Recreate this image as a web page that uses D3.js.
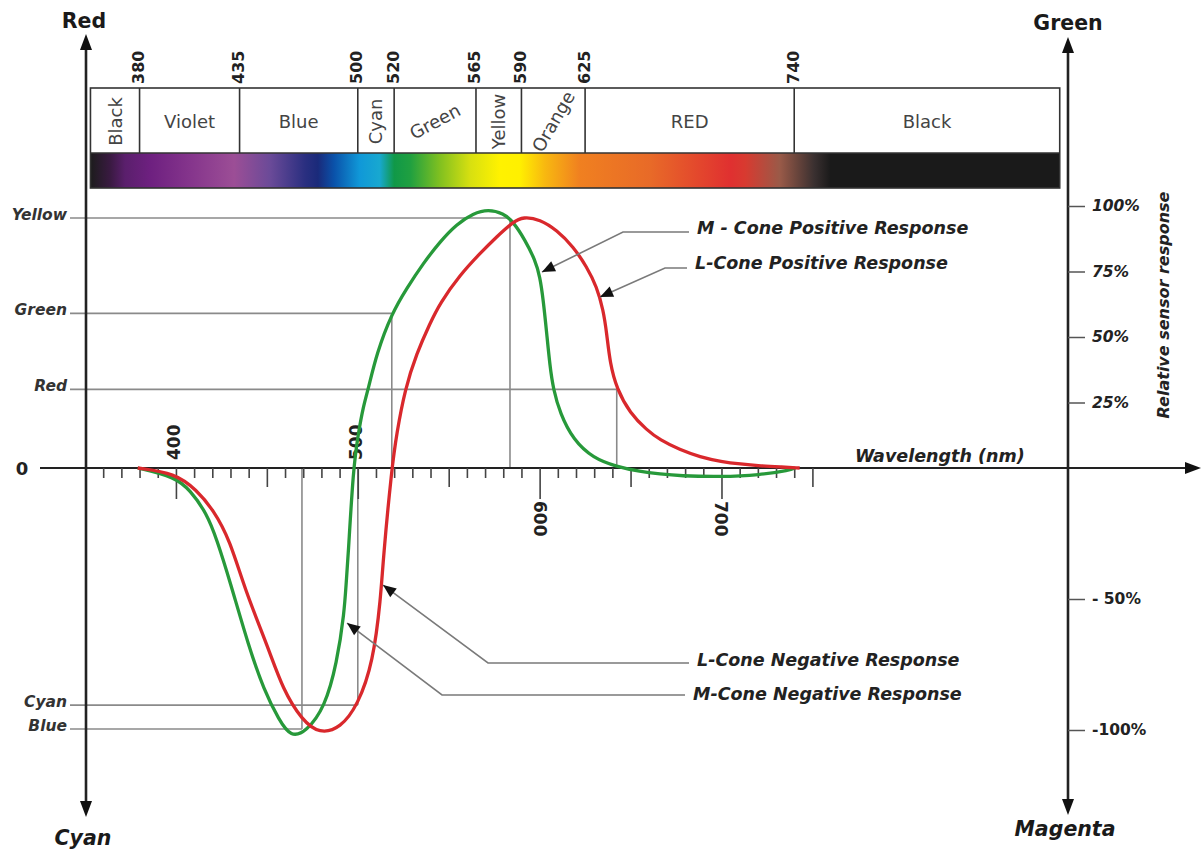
<!DOCTYPE html>
<html><head><meta charset="utf-8">
<script src="https://cdn.jsdelivr.net/npm/d3@7"></script>
<style>body{margin:0;background:#fff}svg{display:block}</style>
</head><body><svg id="c" width="1202" height="850"></svg>
<script>
// ---------------- data ----------------
const lConeWavelengths = [379,399.5,411.4,420.6,429.7,438,450.6,458.9,469.3,479,490.6,500,508.4,512.7,513.9,518.7,521.4,526,532.4,539.7,545.2,556.2,567.2,576.4,585.5,591,600.2,609.4,618.5,625.9,631.4,635,636.9,638.7,642.4,649.7,658.9,666.2,677,688.2,700,710.2,722,732.2,743];
const lConeValues      = [0,-0.02,-0.084,-0.16,-0.275,-0.466,-0.683,-0.847,-0.962,-1.015,-0.992,-0.905,-0.744,-0.492,-0.351,0,0.132,0.302,0.438,0.552,0.629,0.737,0.819,0.883,0.94,0.959,0.949,0.908,0.845,0.768,0.692,0.603,0.514,0.40,0.302,0.209,0.145,0.107,0.07,0.042,0.024,0.015,0.008,0.004,0];
const mConeWavelengths = [379,399.5,407.7,416.9,422.6,429.5,440.1,448.4,456.7,463.2,471.5,482,488.5,492.6,493.7,494.6,497.5,500.3,503,505.8,510.4,518.7,526.9,536,545.2,554.4,563.5,571.8,580,585.5,592,597.5,600.2,602,603.9,605.7,607.5,611.2,618.5,629.5,642.4,655.2,666.2,677.2,699.2,721.2,737.7,740.5];
const mConeValues      = [0,-0.034,-0.084,-0.172,-0.275,-0.427,-0.683,-0.847,-0.962,-1.027,-1.008,-0.912,-0.744,-0.553,-0.427,-0.351,0,0.132,0.234,0.302,0.438,0.59,0.686,0.781,0.864,0.931,0.972,0.987,0.972,0.94,0.87,0.794,0.73,0.641,0.514,0.387,0.302,0.209,0.107,0.037,0.005,-0.014,-0.023,-0.03,-0.034,-0.027,-0.008,0];

const bandEdges = [353, 380, 435, 500, 520, 565, 590, 625, 740, 886];
const bandNames = ["Black","Violet","Blue","Cyan","Green","Yellow","Orange","RED","Black"];

const spectrumWavelengths = [353,364,372,386,408,432,452,471,478,487,501,512,520,529,545,562,578,589,603,622,661,705,713,732,751,760,886];
const spectrumColors = ["#1c1c1c","#3a1a42","#5a1f6c","#6e2080","#85358c","#9c4e96","#6a4a98","#2a2f80","#1a2a7a","#0a52aa","#1098d8","#18a8d0","#109848","#20a040","#80c020","#d8e010","#fff200","#fff000","#f8b810","#f08020","#e86a28","#e03030","#d83a30","#9a5a48","#3a3030","#1a1a1a","#1a1a1a"];

const guideNames = ["Yellow","Green","Red","Cyan","Blue"];
const guideValues = [0.954, 0.59, 0.30, -0.905, -0.996];
const guideWavelengths = [583.7, 518.7, 642.4, 500, 469.3];

const majorTicks = [400, 500, 600, 700];
const mediumTicks = [450, 550, 650, 750];
const minorTicks = d3.range(360, 751, 10).filter(d => d % 50 !== 0);

const responseTicks = [1, 0.75, 0.5, 0.25, -0.5, -1];
const responseTickLabels = ["100%","75%","50%","25%","- 50%","-100%"];

const annotationTexts = ["M - Cone Positive Response","L-Cone Positive Response","L-Cone Negative Response","M-Cone Negative Response"];
const annotationTipWavelengths = [601.3, 633.2, 513.9, 494.1];
const annotationTipValues = [0.748, 0.653, -0.447, -0.592];

// ---------------- layout ----------------
const svg = d3.select("#c");
const FONT = "'DejaVu Sans', sans-serif";
svg.append("rect").attr("width",1202).attr("height",850).attr("fill","#fff");

const x = d3.scaleLinear().domain([350, 890]).range([85, 1067]);
const y = d3.scaleLinear().domain([-1, 1]).range([730, 206]);
const y0 = y(0);
const leftX = x.range()[0] + 1, rightX = x.range()[1] + 1;

const boxTop = 88, labelBottom = 153, barBottom = 188;

// gradient
const defs = svg.append("defs");
const gx1 = x(bandEdges[0]), gx2 = x(bandEdges[bandEdges.length-1]);
const grad = defs.append("linearGradient").attr("id","spec")
  .attr("gradientUnits","userSpaceOnUse").attr("x1",gx1).attr("x2",gx2).attr("y1",0).attr("y2",0);
spectrumWavelengths.forEach((w,i)=>{
  grad.append("stop").attr("offset",(x(w)-gx1)/(gx2-gx1)).attr("stop-color",spectrumColors[i]);
});
svg.append("rect").attr("x",gx1).attr("y",labelBottom).attr("width",gx2-gx1).attr("height",barBottom-labelBottom)
  .attr("fill","url(#spec)");
svg.append("rect").attr("x",gx1).attr("y",boxTop).attr("width",gx2-gx1).attr("height",barBottom-boxTop)
  .attr("fill","none").attr("stroke","#333").attr("stroke-width",1.6);
svg.append("line").attr("x1",gx1).attr("x2",gx2).attr("y1",labelBottom).attr("y2",labelBottom)
  .attr("stroke","#333").attr("stroke-width",1.6);
const inner = bandEdges.slice(1,-1);
svg.selectAll(".div").data(inner).join("line")
  .attr("x1",d=>x(d)).attr("x2",d=>x(d)).attr("y1",boxTop).attr("y2",labelBottom)
  .attr("stroke","#333").attr("stroke-width",1.6);
svg.selectAll(".edgeLbl").data(inner).join("text")
  .attr("transform",d=>`translate(${x(d)-1},${boxTop-4}) rotate(-90)`)
  .attr("text-anchor","start").attr("dominant-baseline","central")
  .attr("font-family",FONT).attr("font-weight","bold").attr("font-size",16).attr("fill","#222")
  .text(d=>d);
const bandRot = [-90,0,0,-90,-28,-90,-60,0,0];
svg.selectAll(".bandLbl").data(bandNames).join("text")
  .attr("transform",(d,i)=>`translate(${(x(bandEdges[i])+x(bandEdges[i+1]))/2},${(boxTop+labelBottom)/2+1}) rotate(${bandRot[i]})`)
  .attr("text-anchor","middle").attr("dominant-baseline","central")
  .attr("font-family",FONT).attr("font-size",18).attr("fill","#444")
  .text(d=>d);

// guide lines
const gcol = "#8a8a8a";
guideNames.forEach((n,i)=>{
  const gy = y(guideValues[i]), gxv = x(guideWavelengths[i]);
  svg.append("line").attr("x1",70).attr("x2",gxv).attr("y1",gy).attr("y2",gy).attr("stroke",gcol).attr("stroke-width",1.6);
  svg.append("line").attr("x1",gxv).attr("x2",gxv).attr("y1",gy).attr("y2",y0).attr("stroke",gcol).attr("stroke-width",1.6);
  svg.append("text").attr("x",67).attr("y",gy-3).attr("text-anchor","end").attr("dominant-baseline","central")
    .attr("font-family",FONT).attr("font-weight","bold").attr("font-style","italic").attr("font-size",15.5).attr("fill","#333")
    .text(n);
});

// horizontal axis
svg.append("line").attr("x1",40).attr("x2",1190).attr("y1",y0).attr("y2",y0).attr("stroke","#222").attr("stroke-width",2);
svg.append("path").attr("d",`M1201,${y0} L1185,${y0-6} L1185,${y0+6} Z`).attr("fill","#111");
svg.append("text").attr("x",22).attr("y",y0).attr("text-anchor","middle").attr("dominant-baseline","central")
  .attr("font-family",FONT).attr("font-weight","bold").attr("font-size",18).attr("fill","#222").text("0");

function ticks(vals,len){
  const g = svg.append("g").attr("transform",`translate(0,${y0})`)
    .call(d3.axisBottom(x).tickValues(vals).tickSize(len).tickFormat(""));
  g.select(".domain").remove();
  g.selectAll("line").attr("stroke","#444").attr("stroke-width",1.6);
}
ticks(minorTicks,10); ticks(mediumTicks,19); ticks(majorTicks,31);
svg.selectAll(".maj").data(majorTicks).join("text")
  .attr("transform",d=> d<550 ? `translate(${x(d)-2},${y0-8}) rotate(-90)` : `translate(${x(d)},${y0+33}) rotate(90)`)
  .attr("text-anchor","start").attr("dominant-baseline","central")
  .attr("font-family",FONT).attr("font-weight","bold").attr("font-size",17).attr("fill","#222")
  .text(d=>d);

svg.append("text").attr("x",855).attr("y",462)
  .attr("font-family",FONT).attr("font-weight","bold").attr("font-style","italic").attr("font-size",17.5).attr("fill","#222")
  .text("Wavelength (nm)");

// curves
const line = d3.line().x(d=>x(d[0])).y(d=>y(d[1])).curve(d3.curveBasis);
svg.append("path").datum(mConeWavelengths.map((w,i)=>[w,mConeValues[i]])).attr("d",line)
  .attr("fill","none").attr("stroke","#27993a").attr("stroke-width",3.3);
svg.append("path").datum(lConeWavelengths.map((w,i)=>[w,lConeValues[i]])).attr("d",line)
  .attr("fill","none").attr("stroke","#d9282c").attr("stroke-width",3.3);

// vertical axes
function vAxis(xx, topTip, botTip){
  svg.append("line").attr("x1",xx).attr("x2",xx).attr("y1",topTip+12).attr("y2",botTip-12).attr("stroke","#222").attr("stroke-width",2.6);
  svg.append("path").attr("d",`M${xx},${topTip} L${xx-6},${topTip+16} L${xx+6},${topTip+16} Z`).attr("fill","#111");
  svg.append("path").attr("d",`M${xx},${botTip} L${xx-6},${botTip-16} L${xx+6},${botTip-16} Z`).attr("fill","#111");
}
vAxis(leftX, 34, 817);
vAxis(rightX, 37, 815);

const ra = svg.append("g").attr("transform",`translate(${rightX},0)`)
  .call(d3.axisRight(y).tickValues(responseTicks).tickSize(17).tickPadding(7).tickFormat((d,i)=>responseTickLabels[i]));
ra.select(".domain").remove();
ra.selectAll("line").attr("stroke","#555").attr("stroke-width",1.5);
ra.selectAll("text").attr("font-family",FONT).attr("font-weight","bold").attr("font-size",15.5).attr("fill","#222")
  .attr("font-style",d=>d>0?"italic":"normal");

svg.append("text").attr("transform","translate(1163,305) rotate(-90)")
  .attr("text-anchor","middle").attr("dominant-baseline","central")
  .attr("font-family",FONT).attr("font-weight","bold").attr("font-style","italic").attr("font-size",16).attr("fill","#222")
  .text("Relative sensor response");

// corner labels
const corner = (t,xx,yy,it)=>svg.append("text").attr("x",xx).attr("y",yy).attr("text-anchor","middle")
  .attr("font-family",FONT).attr("font-weight","bold").attr("font-style",it?"italic":"normal").attr("font-size",20.5).attr("fill","#1a1a1a").text(t);
corner("Red",84,28,false);
corner("Green",1068,30,false);
corner("Cyan",83,845,true);
corner("Magenta",1065,836,true);

// annotations
const annTextY = [234, 269, 666, 700];
const annLineY = [232, 268, 663, 695];
const annKneeX = [623, 665, 488, 442];
const annTextX = [697, 695, 697, 693];
annotationTexts.forEach((t,i)=>{
  const tx = x(annotationTipWavelengths[i]), ty = y(annotationTipValues[i]);
  svg.append("polyline").attr("points",`${annTextX[i]-8},${annLineY[i]} ${annKneeX[i]},${annLineY[i]} ${tx},${ty}`)
    .attr("fill","none").attr("stroke","#7a7a7a").attr("stroke-width",1.6);
  const ang = Math.atan2(ty-annLineY[i], tx-annKneeX[i]) * 180/Math.PI;
  svg.append("path").attr("d","M0,0 L-13,-5.5 L-13,5.5 Z").attr("fill","#111")
    .attr("transform",`translate(${tx},${ty}) rotate(${ang})`);
  svg.append("text").attr("x",annTextX[i]).attr("y",annTextY[i])
    .attr("font-family",FONT).attr("font-weight","bold").attr("font-style","italic").attr("font-size",17.5).attr("fill","#222")
    .text(t);
});
</script></body></html>
